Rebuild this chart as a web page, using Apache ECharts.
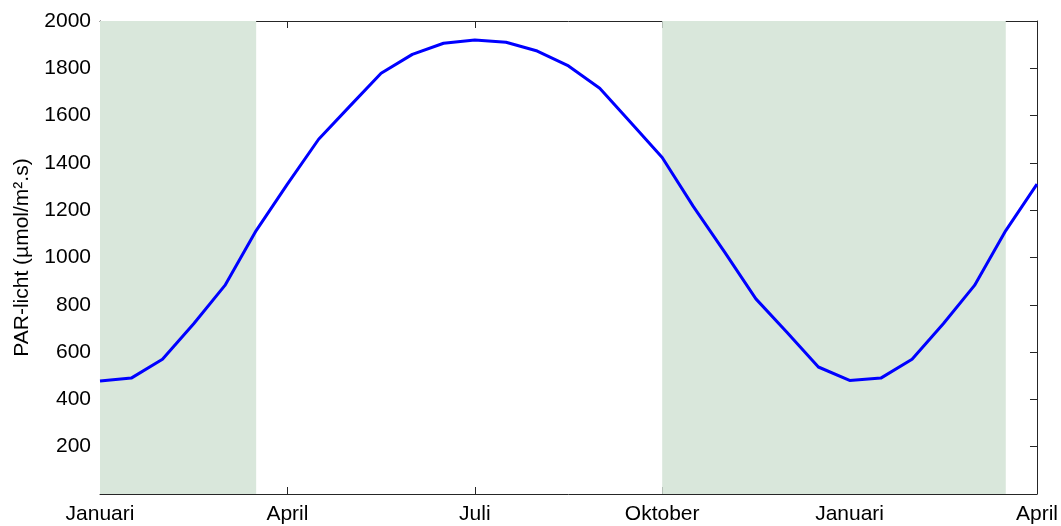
<!DOCTYPE html>
<html>
<head>
<meta charset="utf-8">
<script src="https://cdn.jsdelivr.net/npm/echarts@6/dist/echarts.min.js"></script>
<style>
html,body{margin:0;padding:0;background:#fff;}
#chart{width:1061px;height:526px;}
</style>
</head>
<body>
<div id="chart"></div>
<script>
// Time in months since 1 January (half-month steps)
var months = [0, 0.5, 1, 1.5, 2, 2.5, 3, 3.5, 4, 4.5, 5, 5.5, 6, 6.5, 7, 7.5, 8, 8.5, 9, 9.5, 10, 10.5, 11, 11.5, 12, 12.5, 13, 13.5, 14, 14.5, 15];
// PAR light (µmol/m².s)
var par = [478, 490, 570, 720, 882, 1114, 1310, 1500, 1640, 1779, 1859, 1906, 1920, 1910, 1873, 1810, 1716, 1570, 1423, 1215, 1023, 825, 683, 537, 480, 490, 570, 720, 882, 1114, 1310];
// X tick labels (every 3 months)
var monthLabels = ['Januari', 'April', 'Juli', 'Oktober', 'Januari', 'April'];
// Shaded periods [start, end] in months
var shaded = [[0, 2.5], [9, 14.5]];
var yTicks = [0, 200, 400, 600, 800, 1000, 1200, 1400, 1600, 1800, 2000];

var font = 'Liberation Sans, Arial, sans-serif';
var axisColor = '#262626';

var chart = echarts.init(document.getElementById('chart'), null, {renderer: 'canvas'});
var lineData = months.map(function (m, i) { return [m, par[i]]; });

var option = {
  animation: false,
  backgroundColor: '#ffffff',
  grid: {left: 100, right: 23, top: 21, bottom: 32, containLabel: false},
  xAxis: [{
    type: 'value', min: 0, max: 15, interval: 3, position: 'bottom',
    axisLine: {show: true, onZero: false, lineStyle: {color: axisColor, width: 1}},
    axisTick: {show: true, inside: true, length: 7, lineStyle: {color: axisColor}},
    axisLabel: {
      color: '#000', fontSize: 21, fontFamily: font, margin: 10,
      formatter: function (v) { return monthLabels[Math.round(v / 3)]; }
    },
    splitLine: {show: false}
  }, {
    type: 'value', min: 0, max: 15, interval: 3, position: 'top',
    axisLine: {show: true, onZero: false, lineStyle: {color: axisColor, width: 1}},
    axisTick: {show: true, inside: true, length: 7, lineStyle: {color: axisColor}},
    axisLabel: {show: false},
    splitLine: {show: false}
  }],
  yAxis: [{
    type: 'value', min: 0, max: 2000, interval: 200, position: 'left',
    name: 'PAR-licht (µmol/m².s)', nameLocation: 'middle', nameGap: 67,
    nameTextStyle: {color: '#000', fontSize: 21, fontFamily: font},
    axisLine: {show: true, onZero: false, lineStyle: {color: axisColor, width: 1}},
    axisTick: {show: true, inside: true, length: 7, lineStyle: {color: axisColor}},
    axisLabel: {
      color: '#000', fontSize: 21, fontFamily: font, margin: 9,
      formatter: function (v) { return v === yTicks[0] ? '' : String(v); }
    },
    splitLine: {show: false}
  }, {
    type: 'value', min: 0, max: 2000, interval: 200, position: 'right',
    axisLine: {show: true, onZero: false, lineStyle: {color: axisColor, width: 1}},
    axisTick: {show: true, inside: true, length: 7, lineStyle: {color: axisColor}},
    axisLabel: {show: false},
    splitLine: {show: false}
  }],
  series: [{
    type: 'line',
    xAxisIndex: 0, yAxisIndex: 0,
    data: lineData,
    showSymbol: false,
    smooth: false,
    lineStyle: {color: '#0000ff', width: 3},
    z: 5,
    markArea: {
      silent: true,
      itemStyle: {color: '#d9e7db'},
      data: shaded.map(function (s) { return [{xAxis: s[0]}, {xAxis: s[1]}]; })
    }
  }]
};
chart.setOption(option);
</script>
</body>
</html>
